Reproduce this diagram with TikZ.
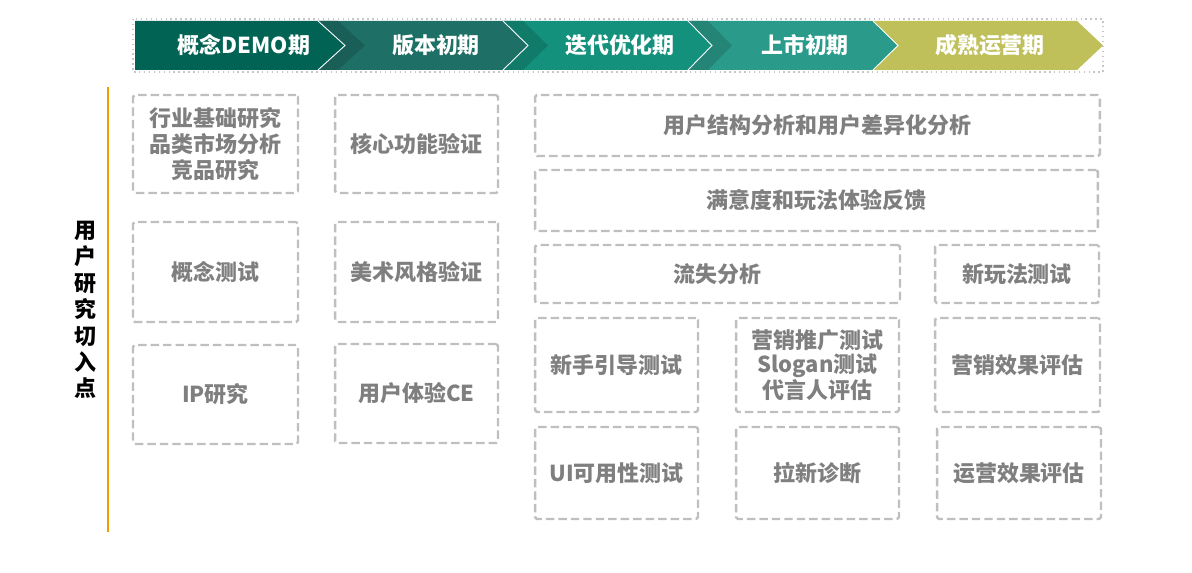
\documentclass[tikz,border=0pt]{standalone}
\usepackage{fontspec}
\setmainfont{Noto Sans CJK SC}
\usepackage{xcolor}
\definecolor{phaseA}{RGB}{0,99,84}
\definecolor{phaseB}{RGB}{30,112,102}
\definecolor{phaseC}{RGB}{20,145,125}
\definecolor{phaseD}{RGB}{42,155,138}
\definecolor{phaseE}{RGB}{191,192,90}
\definecolor{boxgray}{RGB}{191,191,191}
\definecolor{txtgray}{RGB}{127,127,127}
\definecolor{axisorange}{RGB}{237,158,0}
\usetikzlibrary{calc}

\begin{document}
\begin{tikzpicture}[x=0.02cm, y=-0.02cm,
    phasetext/.style={text=white, font=\fontsize{12.5}{15}\selectfont\bfseries},
    cell/.style={draw=boxgray, line width=1.4pt, dash pattern=on 4.8pt off 2.3pt,
                 rounded corners=1pt, align=center, text=txtgray,
                 font=\fontsize{12.5}{15}\selectfont\bfseries}
  ]
    \useasboundingbox (0,0) rectangle (1192,573);

    % Phase banner: left / notch / end / tip / colour
    \foreach \L/\N/\E/\T/\col in {135/135/318/345/phaseA, 318/345/503/528/phaseB,
                                  503/528/688/712/phaseC, 688/712/873/898/phaseD,
                                  873/898/1077/1103/phaseE} {
      \fill[\col] (\L,21) -- (\E,21) -- (\T,45.5) -- (\E,70) -- (\L,70) -- (\N,45.5) -- cycle;
    }
    % shadows behind the notches
    \foreach \L/\N/\col in {318/345/phaseB, 503/528/phaseC, 688/712/phaseD} {
      \fill[\col!85!black] (\L,21) -- (\L+20,21) -- (\N+20,45.5) -- (\L+20,70) -- (\L,70) -- (\N,45.5) -- cycle;
    }
    \foreach \E/\T in {318/345, 503/528, 688/712, 873/898} {
      \draw[white, line width=0.5pt] (\E,21) -- (\T,45.5) -- (\E,70);
    }
    \draw[gray!45, dotted, line width=0.8pt] (133,19) rectangle (1103,72);

    \node[phasetext] (ph1) at (244,45.5) {概念DEMO期};
    \node[phasetext] (ph2) at (436,45.5) {版本初期};
    \node[phasetext] (ph3) at (620,45.5) {迭代优化期};
    \node[phasetext] (ph4) at (805,45.5) {上市初期};
    \node[phasetext] (ph5) at (990,45.5) {成熟运营期};

    % Side axis
    \draw[axisorange, line width=0.8pt] (108,87) -- (108,532);
    \node[align=center, font=\fontsize{12.5}{15}\selectfont\bfseries] (axis) at (85,310)
      {用\\户\\研\\究\\切\\入\\点};

    % Column 1
    \node[cell, minimum width=3.3cm, minimum height=1.96cm] (ind) at (215.5,144)
      {行业基础研究\\品类市场分析\\竞品研究};
    \node[cell, minimum width=3.3cm, minimum height=2.0cm] (con) at (215.5,272) {概念测试};
    \node[cell, minimum width=3.3cm, minimum height=1.98cm] (ip) at (215.5,394.5) {IP研究};

    % Column 2
    \node[cell, minimum width=3.26cm, minimum height=1.96cm] (core) at (416.5,144) {核心功能验证};
    \node[cell, minimum width=3.26cm, minimum height=2.0cm] (art) at (416.5,272) {美术风格验证};
    \node[cell, minimum width=3.26cm, minimum height=1.98cm] (ce) at (416.5,393.5) {用户体验CE};

    % Right block
    \node[cell, minimum width=11.3cm, minimum height=1.22cm] (struct) at (817.5,125.5)
      {用户结构分析和用户差异化分析};
    \node[cell, minimum width=11.26cm, minimum height=1.22cm] (satis) at (816.5,200.5)
      {满意度和玩法体验反馈};
    \node[cell, minimum width=7.3cm, minimum height=1.16cm] (churn) at (717.5,274) {流失分析};
    \node[cell, minimum width=3.28cm, minimum height=1.16cm] (newplay) at (1017,274) {新玩法测试};

    \node[cell, minimum width=3.26cm, minimum height=1.88cm] (guide) at (616.5,365) {新手引导测试};
    \node[cell, minimum width=3.26cm, minimum height=1.88cm, font=\fontsize{12.5}{13.5}\selectfont\bfseries] (promo) at (817.5,365)
      {营销推广测试\\Slogan测试\\代言人评估};
    \node[cell, minimum width=3.3cm, minimum height=1.88cm] (mkteval) at (1017.5,365) {营销效果评估};

    \node[cell, minimum width=3.26cm, minimum height=1.84cm] (ui) at (616.5,473) {UI可用性测试};
    \node[cell, minimum width=3.26cm, minimum height=1.84cm] (acq) at (817.5,473) {拉新诊断};
    \node[cell, minimum width=3.28cm, minimum height=1.84cm] (opeval) at (1019,473) {运营效果评估};
  \end{tikzpicture}
\end{document}
